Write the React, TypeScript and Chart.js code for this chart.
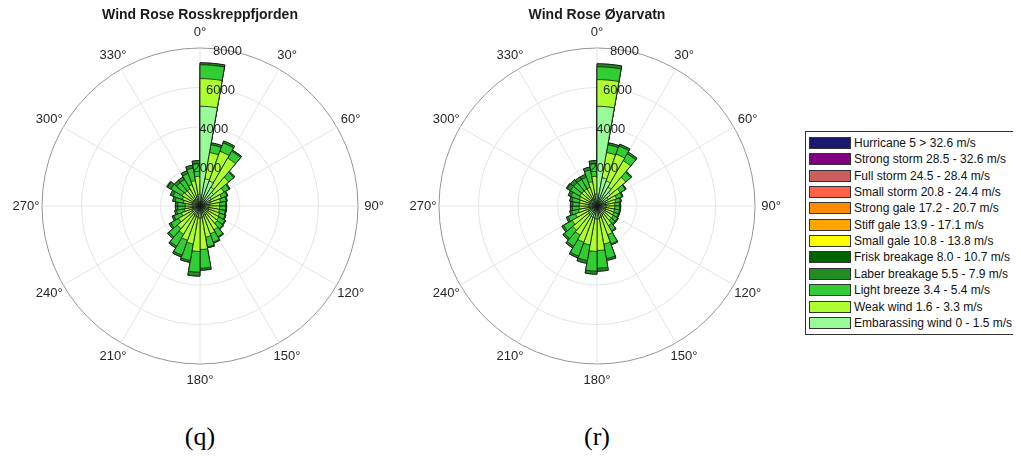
import React, { useEffect, useRef } from 'react';
import { Chart, registerables } from 'chart.js';

Chart.register(...registerables);

// 10-degree direction sectors, clockwise from north
const directionLabels = [
  '0°', '10°', '20°', '30°', '40°', '50°', '60°', '70°', '80°',
  '90°', '100°', '110°', '120°', '130°', '140°', '150°', '160°', '170°',
  '180°', '190°', '200°', '210°', '220°', '230°', '240°', '250°', '260°',
  '270°', '280°', '290°', '300°', '310°', '320°', '330°', '340°', '350°',
];

const angleTickLabels = ['0°', '30°', '60°', '90°', '120°', '150°', '180°', '210°', '240°', '270°', '300°', '330°'];
const radialTicks = [2000, 4000, 6000, 8000];

// Speed classes in legend order (strongest first)
const speedClasses = [
  'Hurricane 5 > 32.6 m/s',
  'Strong storm 28.5 - 32.6 m/s',
  'Full storm 24.5 - 28.4 m/s',
  'Small storm 20.8 - 24.4 m/s',
  'Strong gale 17.2 - 20.7 m/s',
  'Stiff gale 13.9 - 17.1 m/s',
  'Small gale 10.8 - 13.8 m/s',
  'Frisk breakage 8.0 - 10.7 m/s',
  'Laber breakage 5.5 - 7.9 m/s',
  'Light breeze 3.4 - 5.4 m/s',
  'Weak wind 1.6 - 3.3 m/s',
  'Embarassing wind 0 - 1.5 m/s',
];
const speedColors = [
  '#191970', '#800080', '#CD5C5C', '#FF6347', '#FF8C00', '#FFA500',
  '#FFFF00', '#006400', '#228B22', '#32CD32', '#ADFF2F', '#98FB98',
];

// Rosskreppfjorden counts per sector
const rossEmbarassing = [5050, 1400, 1350, 1100, 900, 650, 550, 500, 450, 450, 450, 450, 450, 450, 500, 500, 550, 600, 600, 550, 550, 500, 500, 450, 400, 350, 350, 350, 400, 400, 400, 400, 400, 450, 500, 600];
const rossWeak = [1400, 1350, 1600, 1700, 1000, 750, 600, 550, 550, 550, 550, 600, 650, 700, 900, 1000, 1050, 1600, 1700, 1400, 1300, 1150, 1000, 800, 600, 450, 400, 400, 450, 550, 650, 600, 600, 700, 800, 900];
const rossLight = [700, 400, 450, 400, 330, 300, 300, 300, 300, 300, 300, 300, 350, 350, 400, 450, 500, 950, 1050, 850, 800, 700, 550, 450, 400, 400, 380, 380, 420, 500, 650, 550, 550, 600, 650, 650];
const rossLaber = [100, 100, 100, 70, 70, 50, 50, 50, 50, 50, 50, 50, 50, 50, 50, 50, 50, 100, 200, 100, 100, 100, 100, 100, 100, 100, 120, 120, 130, 150, 200, 150, 150, 150, 150, 150];
const rossFrisk = [0, 0, 0, 0, 0, 0, 0, 0, 0, 0, 0, 0, 0, 0, 0, 0, 0, 0, 0, 0, 0, 0, 0, 0, 0, 0, 0, 0, 0, 0, 50, 0, 0, 0, 0, 0];

// Øyarvatn counts per sector
const oyaEmbarassing = [5050, 1450, 1350, 1100, 900, 650, 500, 450, 450, 450, 450, 450, 450, 450, 500, 550, 600, 650, 650, 600, 600, 550, 550, 500, 450, 400, 400, 400, 400, 400, 400, 400, 400, 400, 500, 600];
const oyaWeak = [1350, 1300, 1450, 1550, 1000, 700, 550, 500, 450, 450, 450, 450, 500, 500, 650, 1000, 1350, 1600, 1650, 1400, 1350, 1150, 1050, 950, 700, 550, 500, 500, 500, 550, 600, 600, 600, 600, 750, 900];
const oyaLight = [650, 400, 430, 400, 330, 300, 300, 250, 250, 250, 250, 250, 250, 250, 300, 500, 750, 900, 1000, 800, 750, 650, 550, 500, 400, 350, 350, 330, 380, 450, 550, 550, 550, 550, 600, 650];
const oyaLaber = [150, 100, 100, 100, 70, 50, 50, 50, 50, 50, 50, 50, 50, 50, 50, 50, 100, 150, 150, 150, 100, 100, 100, 100, 100, 100, 100, 120, 120, 150, 200, 200, 150, 150, 150, 150];
const oyaFrisk = [0, 0, 0, 0, 0, 0, 0, 0, 0, 0, 0, 0, 0, 0, 0, 0, 0, 0, 0, 0, 0, 0, 0, 0, 0, 0, 0, 0, 0, 0, 50, 0, 0, 0, 0, 0];

// calmest class first; index into speedClasses / speedColors
const stackOrder = [11, 10, 9, 8, 7];

const sansFont = '"Liberation Sans", Arial, Helvetica, sans-serif';

const roseLabels = {
  id: 'roseLabels',
  afterDraw(chart: any) {
    const scale = chart.scales.r;
    const ctx = chart.ctx;
    ctx.save();
    ctx.font = `13px ${sansFont}`;
    ctx.fillStyle = '#262626';
    ctx.textAlign = 'center';
    ctx.textBaseline = 'middle';
    angleTickLabels.forEach((label, k) => {
      const p = scale.getPointPosition(k * 3, scale.drawingArea + 16);
      ctx.fillText(label, p.x, p.y);
    });
    radialTicks.forEach((v) => {
      const p = scale.getPointPosition(1, scale.getDistanceFromCenterForValue(v));
      ctx.fillText(String(v), p.x, p.y + 1);
    });
    ctx.restore();
  },
};

function WindRose({ series, left, width, padLeft, padRight }: { series: number[][]; left: number; width: number; padLeft: number; padRight: number }) {
  const ref = useRef<HTMLCanvasElement>(null);
  useEffect(() => {
    const canvas = ref.current;
    if (!canvas) return;
    let running = directionLabels.map(() => 0);
    const stacks = series.map((s) => {
      running = running.map((r, i) => r + s[i]);
      return running;
    });
    const chart = new Chart(canvas, {
      type: 'polarArea',
      data: {
        labels: directionLabels,
        datasets: stacks.map((d, k) => ({
          label: speedClasses[stackOrder[k]],
          data: d,
          backgroundColor: speedColors[stackOrder[k]],
          borderColor: '#141414',
          borderWidth: 0.8,
        })),
      },
      options: {
        responsive: false,
        animation: false,
        layout: { padding: { left: padLeft, right: padRight, top: 42, bottom: 42 } },
        plugins: { legend: { display: false }, tooltip: { enabled: false }, title: { display: false } },
        scales: {
          r: {
            min: 0,
            max: 8000,
            startAngle: 0,
            ticks: { display: false, stepSize: 2000 },
            grid: {
              circular: true,
              lineWidth: 1,
              color: (c: any) => (c.tick && c.tick.value >= 8000 ? '#969696' : '#e4e4e4'),
            },
            angleLines: {
              display: true,
              color: '#e4e4e4',
              lineWidth: (c: any) => (c.index % 3 === 0 ? 1 : 0),
            },
            pointLabels: { display: false },
          },
        },
      } as any,
      plugins: [roseLabels],
    });
    return () => chart.destroy();
  }, [series]);
  return (
    <canvas
      ref={ref}
      width={width}
      height={400}
      style={{ position: 'absolute', left, top: 6, width, height: 400 }}
    />
  );
}

const rossSeries = [rossEmbarassing, rossWeak, rossLight, rossLaber, rossFrisk];
const oyaSeries = [oyaEmbarassing, oyaWeak, oyaLight, oyaLaber, oyaFrisk];

function Title({ text, cx }: { text: string; cx: number }) {
  return (
    <div
      style={{
        position: 'absolute', left: cx - 160, width: 320, top: 6, height: 18, lineHeight: '18px',
        textAlign: 'center', font: `bold 14px ${sansFont}`, color: '#1a1a1a', whiteSpace: 'nowrap',
      }}
    >
      {text}
    </div>
  );
}

function Caption({ text, cx }: { text: string; cx: number }) {
  return (
    <div
      style={{
        position: 'absolute', left: cx - 40, width: 80, top: 422, height: 30, lineHeight: '30px',
        textAlign: 'center', font: `26px "Liberation Serif", "Times New Roman", serif`, color: '#000',
      }}
    >
      {text}
    </div>
  );
}

function Legend() {
  const top = 131;
  const pitch = 16.35;
  return (
    <div
      style={{
        position: 'absolute', left: 805, top, width: 214, height: 12 * pitch + 8,
        border: '1px solid #333', background: '#fff', boxSizing: 'border-box',
      }}
    >
      {speedClasses.map((name, i) => (
        <div key={name}>
          <div
            style={{
              position: 'absolute', left: 3, top: 5 + i * pitch, width: 42, height: 12,
              background: speedColors[i], border: '1px solid #333', boxSizing: 'border-box',
            }}
          />
          <div
            style={{
              position: 'absolute', left: 48, top: 4 + i * pitch, height: 14, lineHeight: '14px',
              font: `12px ${sansFont}`, color: '#111', whiteSpace: 'nowrap',
            }}
          >
            {name}
          </div>
        </div>
      ))}
    </div>
  );
}

export default function App() {
  return (
    <div style={{ position: 'relative', width: 1021, height: 465 }}>
      <div style={{ position: 'absolute', left: -8, top: -8, width: 1021, height: 465, background: '#fff' }}>
        <WindRose series={rossSeries} left={0} width={396} padLeft={42} padRight={38} />
        <WindRose series={oyaSeries} left={397} width={400} padLeft={42} padRight={42} />
        <Title text="Wind Rose Rosskreppfjorden" cx={200} />
        <Title text="Wind Rose Øyarvatn" cx={597} />
        <Caption text="(q)" cx={200} />
        <Caption text="(r)" cx={597} />
        <Legend />
      </div>
    </div>
  );
}
